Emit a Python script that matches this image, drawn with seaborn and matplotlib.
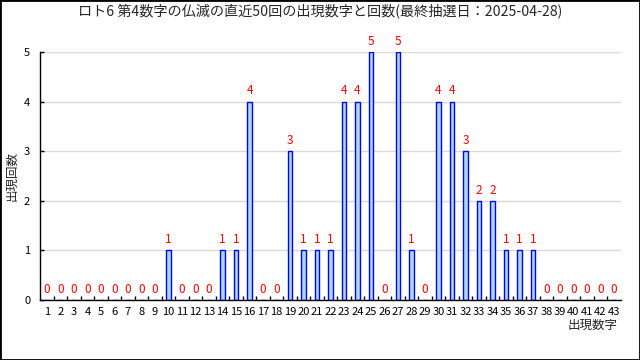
import matplotlib
matplotlib.use("Agg")
import matplotlib.pyplot as plt
import seaborn as sns
import pandas as pd
from matplotlib.patches import Rectangle
from matplotlib.ticker import FixedLocator

numbers = list(range(1, 44))
counts = [0, 0, 0, 0, 0, 0, 0, 0, 0, 1,
          0, 0, 0, 1, 1, 4, 0, 0, 3, 1,
          1, 1, 4, 4, 5, 0, 5, 1, 0, 4,
          4, 3, 2, 2, 1, 1, 1, 0, 0, 0,
          0, 0, 0]
title = "ロト6 第4数字の仏滅の直近50回の出現数字と回数(最終抽選日：2025-04-28)"
xlabel = "出現数字"
ylabel = "出現回数"

sns.set_theme(style="white")
plt.rcParams['font.family'] = ['Noto Sans CJK JP', 'DejaVu Sans']

df = pd.DataFrame({"num": [str(n) for n in numbers], "cnt": counts})

fig = plt.figure(figsize=(6.4, 3.6), dpi=100)
ax = fig.add_axes([40/640, 60/360, 581/640, 248/360])

sns.barplot(data=df, x="num", y="cnt", order=df["num"], color="#add8e6",
            edgecolor="#0000ff", linewidth=1, width=0.35, saturation=1, ax=ax)

ax.bar_label(ax.containers[0], color="#ff0000", padding=3, fontsize=8.5, clip_on=False)

ax.set_xlim(-0.52, len(numbers) - 0.48)
ax.set_ylim(0, 5)
ax.set_yticks(range(0, 6))
ax.yaxis.grid(True, color="#d9d9d9", linewidth=1)
ax.set_axisbelow(True)
for s in ["top", "right"]:
    ax.spines[s].set_visible(False)
for s in ["left", "bottom"]:
    ax.spines[s].set_color("black")
    ax.spines[s].set_linewidth(1)

ax.tick_params(axis="x", which="major", length=0, pad=5, labelsize=8, colors="black")
ax.xaxis.set_minor_locator(FixedLocator([i + 0.5 for i in range(len(numbers) - 1)]))
ax.tick_params(axis="x", which="minor", direction="in", length=3, width=1, color="black", bottom=True)
ax.tick_params(axis="y", direction="in", length=3, width=1, pad=7, labelsize=8, colors="black", left=True)

ax.set_xlabel("")
ax.set_ylabel("")
fig.text(12/640, 1 - 176/360, ylabel, ha="center", va="center", rotation=90, fontsize=9)
fig.text(618/640, 1 - 325/360, xlabel, ha="right", va="center", fontsize=9)
fig.text(0.5, 1 - 11/360, title, ha="center", va="center", fontsize=10.2)

fig.patches.append(Rectangle((0, 0), 1, 1, transform=fig.transFigure, fill=False,
                             edgecolor="black", linewidth=2))

fig.savefig("out.png", dpi=100)
